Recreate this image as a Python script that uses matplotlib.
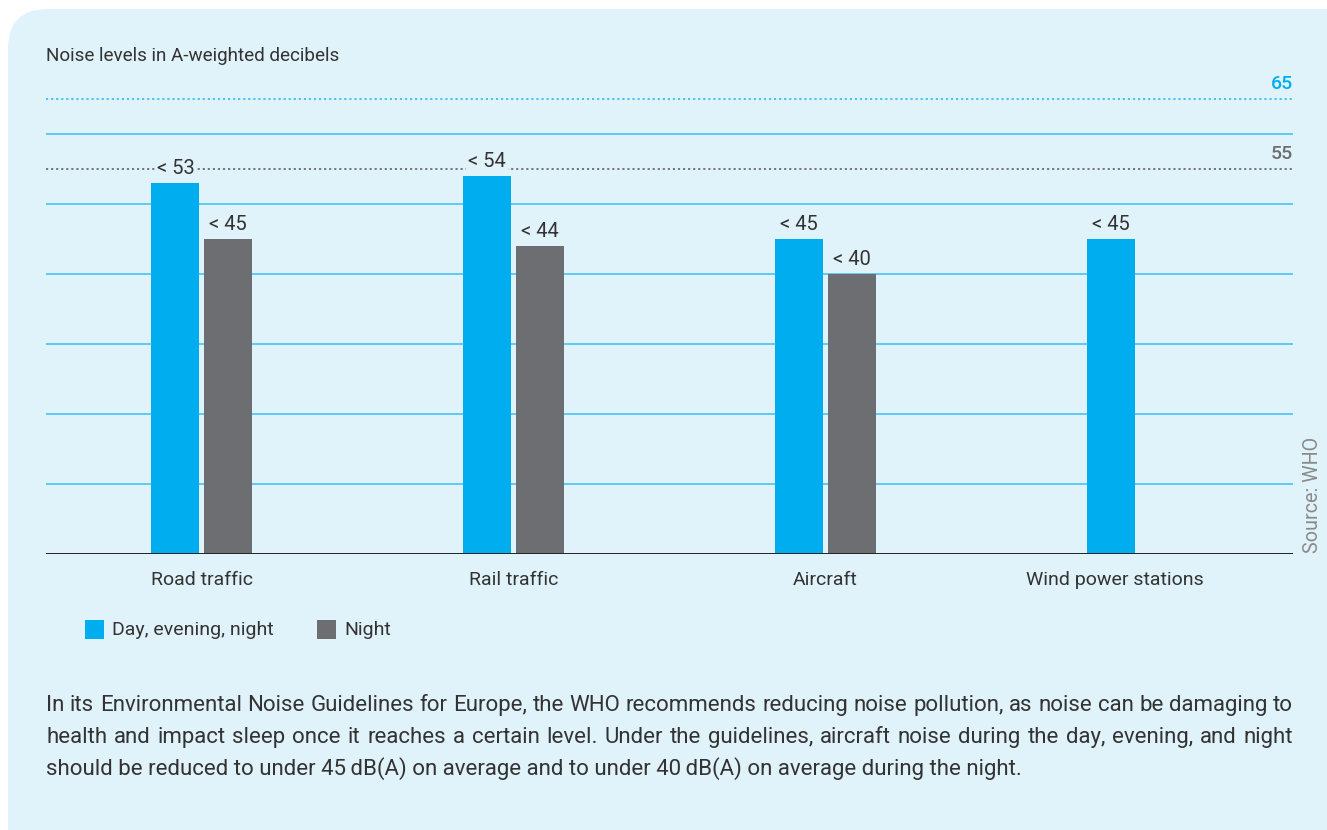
import matplotlib
matplotlib.use("Agg")
import matplotlib.pyplot as plt
from matplotlib.patches import FancyBboxPatch, Rectangle
import numpy as np

plt.rcParams["font.family"] = ["Roboto", "DejaVu Sans"]

categories = ["Road traffic", "Rail traffic", "Aircraft", "Wind power stations"]
day_evening_night = [53, 54, 45, 45]
night = [45, 44, 40, None]
series_names = ["Day, evening, night", "Night"]
guideline_levels = [55, 65]
title = "Noise levels in A-weighted decibels"
source = "Source: WHO"
body_lines = [
    "In its Environmental Noise Guidelines for Europe, the WHO recommends reducing noise pollution, as noise can be damaging to",
    "health and impact sleep once it reaches a certain level. Under the guidelines, aircraft noise during the day, evening, and night",
    "should be reduced to under 45\u2009dB(A) on average and to under 40\u2009dB(A) on average during the night.",
]

BLUE = "#00AEEF"
GREY = "#6D6E71"
BG = "#E0F2FA"
GRID = "#3DBDF2"
TXT = "#333333"

W, H = 1327, 830
fig = plt.figure(figsize=(W / 100, H / 100), dpi=100)
fig.patch.set_facecolor("white")

# rounded panel, bottom runs off the figure
panel = FancyBboxPatch((8 / W, -0.05), (W - 8) / W + 0.05, 1 - 9 / H + 0.05,
                       boxstyle="round,pad=0,rounding_size=0.03",
                       transform=fig.transFigure, facecolor=BG,
                       edgecolor="none", zorder=-10, mutation_aspect=W / H)
fig.patches.append(panel)

x0, x1 = 46 / W, 1293 / W
y_base = 1 - 554 / H
ymax = 66
y_top = 1 - (554 - ymax * 7) / H
ax = fig.add_axes([x0, y_base, x1 - x0, y_top - y_base])
ax.set_zorder(5)
ax.set_facecolor("none")
ax.set_xlim(-0.5, 3.5)
ax.set_ylim(0, ymax)
for s in ax.spines.values():
    s.set_visible(False)
ax.set_xticks([])
ax.set_yticks([])

for v in range(10, 61, 10):
    ax.axhline(v, color=GRID, lw=1.1, zorder=1)
ax.axhline(0, color="#222222", lw=1.4, zorder=3)
ax.axhline(guideline_levels[1], color=GRID, lw=1.3, ls=(0, (1.2, 1.6)), zorder=1)
ax.axhline(guideline_levels[0], color=GREY, lw=1.3, ls=(0, (1.2, 1.6)), zorder=1)
ax.text(3.5, guideline_levels[1] + 0.9, str(guideline_levels[1]), color=BLUE,
        fontsize=14, ha="right", va="bottom", fontweight="medium")
ax.text(3.5, guideline_levels[0] + 0.9, str(guideline_levels[0]), color=GREY,
        fontsize=14, ha="right", va="bottom", fontweight="medium")

bw = 48 / 312
off = 26.5 / 312
x = np.arange(len(categories))
label_x = []
for i in range(len(categories)):
    d, n = day_evening_night[i], night[i]
    ax.bar(x[i] - off, d, width=bw, color=BLUE, zorder=2)
    ax.text(x[i] - off, d + 0.7, f"< {d}", ha="center", va="bottom",
            fontsize=14.5, color=TXT, zorder=4,
            bbox=dict(facecolor=BG, edgecolor="none", pad=1.5))
    if n is not None:
        ax.bar(x[i] + off, n, width=bw, color=GREY, zorder=2)
        ax.text(x[i] + off, n + 0.7, f"< {n}", ha="center", va="bottom",
                fontsize=14.5, color=TXT, zorder=4,
                bbox=dict(facecolor=BG, edgecolor="none", pad=1.5))
        label_x.append(x[i])
    else:
        label_x.append(x[i] - off + 4 / 312)
for lx, c in zip(label_x, categories):
    ax.text(lx, -2.4, c, ha="center", va="top", fontsize=14, color=TXT)

fig.text(46 / W, 1 - 56 / H, title, fontsize=13.6, color=TXT, va="center")
fig.text(1313 / W, 1 - 553 / H, source, rotation=90, fontsize=14.2,
         color="#8a8a8a", ha="center", va="bottom")

# legend
for (lx, tx), name, col in zip([(85, 112), (317, 344)], series_names, [BLUE, GREY]):
    fig.patches.append(Rectangle((lx / W, 1 - 639 / H), 19 / W, 19 / H,
                                 transform=fig.transFigure, facecolor=col,
                                 edgecolor="none"))
    fig.text(tx / W, 1 - 630 / H, name, fontsize=14, color=TXT, va="center")

# body text, justified except the last line
renderer = fig.canvas.get_renderer()
left, right = 46, 1293
for i, line in enumerate(body_lines):
    yy = 1 - (705 + 32 * i) / H
    if i == len(body_lines) - 1:
        fig.text(left / W, yy, line, fontsize=16, color=TXT, va="center")
        continue
    words = line.split(" ")
    arts = [fig.text(0, yy, w, fontsize=16, color=TXT, va="center") for w in words]
    widths = [a.get_window_extent(renderer).width for a in arts]
    gap = (right - left - sum(widths)) / (len(words) - 1)
    px = left
    for a, wd in zip(arts, widths):
        a.set_x(px / W)
        px += wd + gap

fig.savefig("out.png", dpi=100, facecolor="white")
